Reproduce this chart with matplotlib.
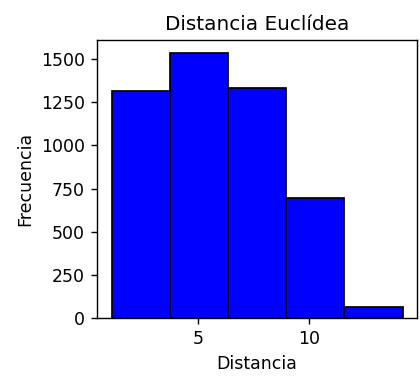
import matplotlib
matplotlib.use("Agg")
import matplotlib.pyplot as plt
import numpy as np

# bordes de los intervalos y frecuencias
bordes = [1.127, 3.736, 6.345, 8.954, 11.563, 14.17]
frecuencias = [1314, 1533, 1335, 697, 66]
ticks_x = [5, 10]
ticks_y = [0, 250, 500, 750, 1000, 1250, 1500]

fig = plt.figure(figsize=(3.36, 3.008), dpi=125)
ax = fig.add_axes([0.231, 0.154, 0.762, 0.739])

ax.hist(bordes[:-1], bins=bordes, weights=frecuencias, color='blue', edgecolor='black')

ax.set_xticks(ticks_x)
ax.set_yticks(ticks_y)
ax.set_title('Distancia Euclídea', fontsize=11.5)
ax.set_xlabel('Distancia')
ax.set_ylabel('Frecuencia')

fig.savefig('out.png', dpi=125)
